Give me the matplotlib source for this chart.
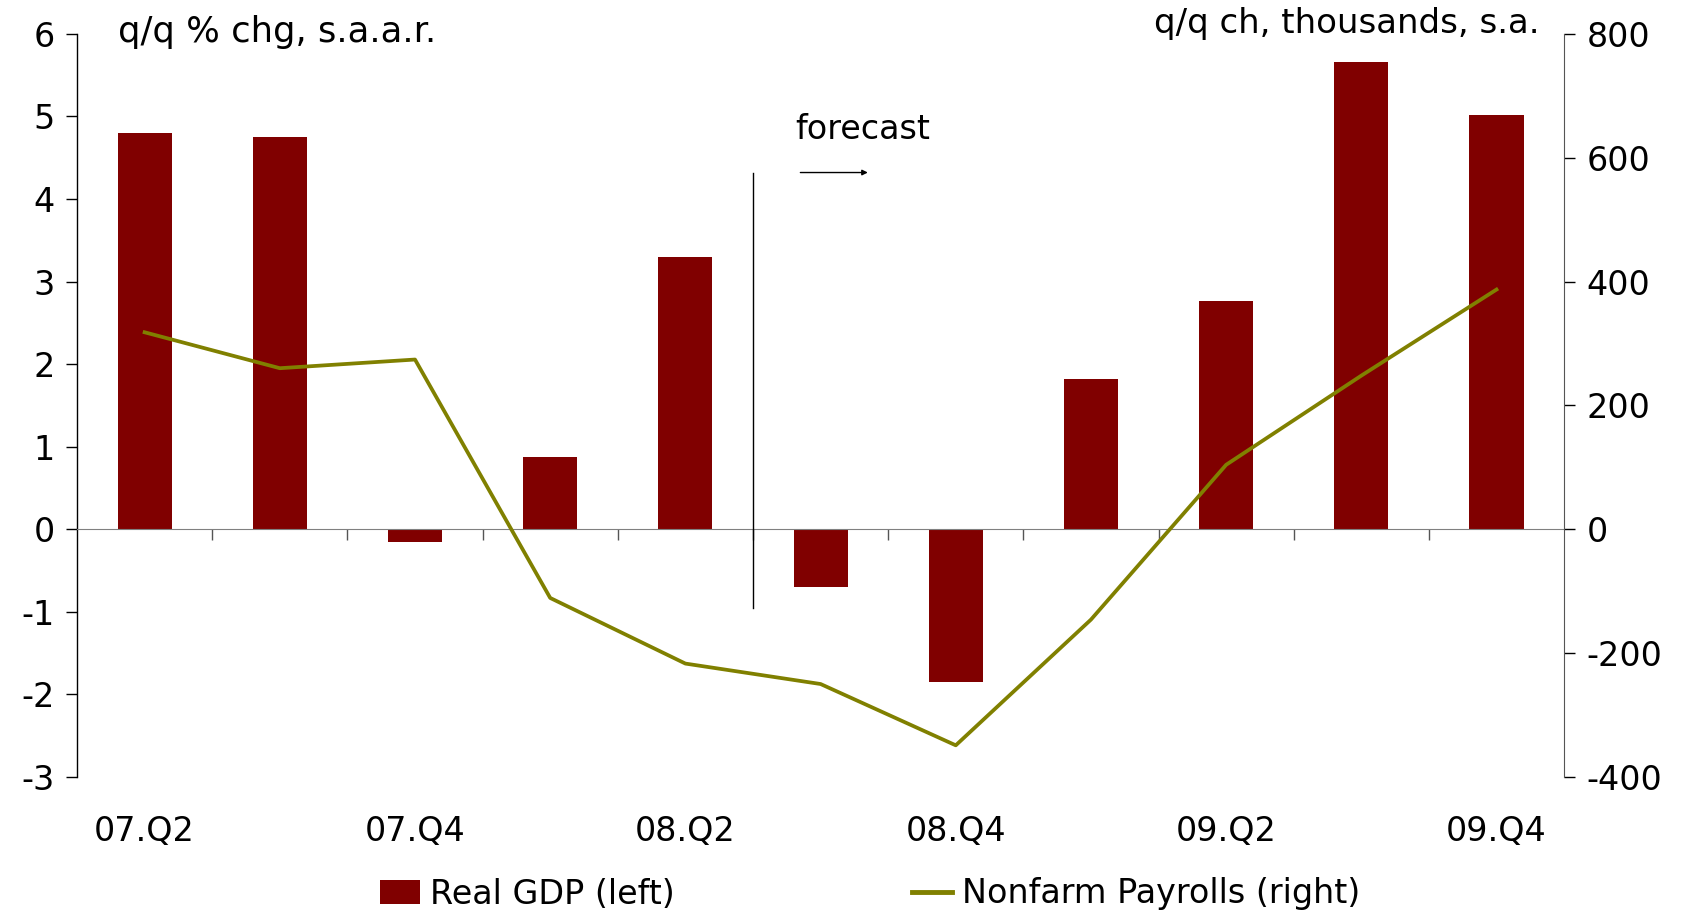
import matplotlib
matplotlib.use("Agg")
import matplotlib.pyplot as plt
from matplotlib.patches import Patch
from matplotlib.lines import Line2D

plt.rcParams["font.family"] = ["DejaVu Sans"]
plt.rcParams["font.size"] = 24

quarters = ["07.Q2", "07.Q3", "07.Q4", "08.Q1", "08.Q2", "08.Q3",
            "08.Q4", "09.Q1", "09.Q2", "09.Q3", "09.Q4"]
gdp = [4.8, 4.75, -0.16, 0.88, 3.3, -0.7, -1.85, 1.82, 2.77, 5.66, 5.02]
payrolls = [318, 260, 274, -111, -217, -250, -349, -146, 104, 248, 387]
shown_labels = ["07.Q2", "07.Q4", "08.Q2", "08.Q4", "09.Q2", "09.Q4"]

bar_color = "#800000"
line_color = "#808000"

fig = plt.figure(figsize=(16.86, 9.14), dpi=100)
ax = fig.add_axes([0.0457, 0.150, 0.8820, 0.813])
ax2 = ax.twinx()

x = list(range(len(quarters)))
ax.bar(x, gdp, width=0.4, color=bar_color, zorder=2)
ax2.plot(x, payrolls, color=line_color, lw=2.7, zorder=3)

ax.set_xlim(-0.5, len(quarters) - 0.5)
ax.set_ylim(-3, 6)
ax.set_yticks(range(-3, 7))
ax.set_yticklabels([str(v) for v in range(-3, 7)])
ax2.set_ylim(-400, 800)
ax2.set_yticks(range(-400, 801, 200))
ax2.set_yticklabels([str(v) for v in range(-400, 801, 200)])

# line axes drawn above the bars
ax.set_zorder(1)
ax.patch.set_visible(False)
ax2.set_zorder(2)

for a in (ax, ax2):
    a.spines["top"].set_visible(False)
ax.spines["right"].set_visible(False)
ax2.spines["left"].set_visible(False)
ax2.spines["bottom"].set_visible(False)
ax.spines["bottom"].set_position(("data", 0))
ax.spines["bottom"].set_color("#808080")
ax.spines["left"].set_linewidth(1.0)
ax2.spines["right"].set_color("#555555")

ax.tick_params(axis="y", direction="out", length=8, width=1, pad=8)
ax2.tick_params(axis="y", direction="out", length=8, width=1, pad=8)

# x ticks at category boundaries, labels placed at bottom
ax.set_xticks([i + 0.5 for i in x[:-1]])
ax.tick_params(axis="x", direction="out", length=8, width=1,
               color="#555555", labelbottom=False)
for i, q in enumerate(quarters):
    if q in shown_labels:
        ax.text(i, -0.073, q, transform=ax.get_xaxis_transform(),
                ha="center", va="center")

# forecast marker
ax.plot([4.5, 4.5], [-0.95, 4.32], color="black", lw=1.0, zorder=4)
ax.annotate("", xy=(5.37, 4.32), xytext=(4.83, 4.32),
            arrowprops=dict(arrowstyle="-|>", color="black", lw=1.0,
                            mutation_scale=8))
ax.text(4.81, 4.84, "forecast", ha="left", va="center")

# axis unit labels
fig.text(118 / 1686, 1 - 32 / 914, "q/q % chg, s.a.a.r.", ha="left", va="center",
         fontsize=25.5)
fig.text(1540 / 1686, 1 - 24 / 914, "q/q ch, thousands, s.a.", ha="right", va="center",
         fontsize=24.5)

handles = [Patch(facecolor=bar_color, edgecolor="none"),
           Line2D([0], [0], color=line_color, lw=3.5)]
fig.legend(handles, ["Real GDP (left)", "Nonfarm Payrolls (right)"],
           loc="center", bbox_to_anchor=(0.516, 1 - 894 / 914), ncol=2,
           frameon=False, columnspacing=7.1, handlelength=1.2,
           handletextpad=0.3, borderaxespad=0)

fig.savefig("out.png", dpi=100)
